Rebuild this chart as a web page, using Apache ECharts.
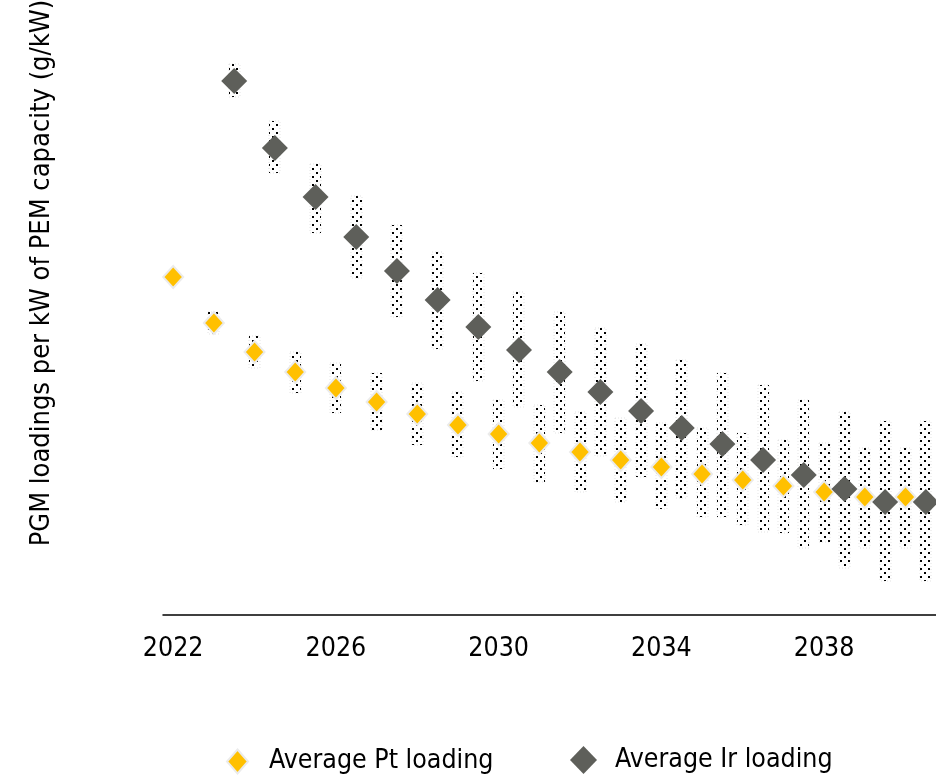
<!DOCTYPE html>
<html>
<head>
<meta charset="utf-8">
<script src="https://cdn.jsdelivr.net/npm/echarts@6/dist/echarts.min.js"></script>
<style>
  html, body { margin: 0; padding: 0; background: #fff; }
  #chart { width: 936px; height: 777px; }
</style>
</head>
<body>
<div id="chart"></div>
<script>
// Platinum loading: yearly averages and low/high range (g/kW)
const ptYears = [2022, 2023, 2024, 2025, 2026, 2027, 2028, 2029, 2030, 2031,
                 2032, 2033, 2034, 2035, 2036, 2037, 2038, 2039, 2040];
const ptAvg  = [0.338, 0.292, 0.263, 0.243, 0.227, 0.213, 0.201, 0.190, 0.181, 0.172,
                0.163, 0.155, 0.148, 0.141, 0.135, 0.129, 0.123, 0.118, 0.118];
const ptLow  = [0.335, 0.281, 0.247, 0.222, 0.202, 0.185, 0.170, 0.158, 0.146, 0.133,
                0.123, 0.113, 0.106, 0.098, 0.090, 0.082, 0.073, 0.067, 0.067];
const ptHigh = [0.341, 0.303, 0.279, 0.263, 0.252, 0.242, 0.232, 0.223, 0.215, 0.210,
                0.203, 0.197, 0.192, 0.187, 0.182, 0.175, 0.172, 0.167, 0.167];

// Iridium loading: plotted mid-year, averages and low/high range (g/kW)
const irYears = [2023.5, 2024.5, 2025.5, 2026.5, 2027.5, 2028.5, 2029.5, 2030.5, 2031.5,
                 2032.5, 2033.5, 2034.5, 2035.5, 2036.5, 2037.5, 2038.5, 2039.5, 2040.5];
const irAvg  = [0.534, 0.467, 0.418, 0.378, 0.344, 0.315, 0.288, 0.265, 0.243,
                0.223, 0.204, 0.187, 0.171, 0.155, 0.140, 0.126, 0.113, 0.113];
const irLow  = [0.518, 0.442, 0.382, 0.337, 0.298, 0.266, 0.234, 0.208, 0.182,
                0.159, 0.138, 0.117, 0.098, 0.083, 0.067, 0.047, 0.034, 0.034];
const irHigh = [0.551, 0.494, 0.451, 0.419, 0.390, 0.363, 0.342, 0.323, 0.303,
                0.287, 0.271, 0.255, 0.242, 0.230, 0.215, 0.203, 0.194, 0.194];

const yearTicks = [2022, 2026, 2030, 2034, 2038];

const FONT = '"DejaVu Sans Condensed", "Open Sans", sans-serif';
const FONT_SIZE = 26.5;

// Stippled fill used for the range bars
function dotPattern() {
  const c = document.createElement('canvas');
  c.width = 8; c.height = 8;
  const g = c.getContext('2d');
  g.fillStyle = '#000';
  g.fillRect(0, 0, 2, 2);
  g.fillRect(4, 4, 2, 2);
  return c;
}
const stipple = { image: dotPattern(), repeat: 'repeat' };

function rangeBar(params, api) {
  const x = api.value(0);
  const top = api.coord([x, api.value(2)]);
  const bot = api.coord([x, api.value(1)]);
  const w = 11;
  return {
    type: 'rect',
    shape: { x: Math.round(top[0] - w / 2), y: top[1], width: w, height: bot[1] - top[1] },
    style: { fill: stipple, stroke: 'rgba(120,120,120,0.35)', lineWidth: 0.6, lineDash: [1, 2] }
  };
}

const chart = echarts.init(document.getElementById('chart'), null, { renderer: 'canvas' });

chart.setOption({
  animation: false,
  backgroundColor: '#fff',
  grid: { left: 163, right: 0, top: 15, bottom: 162 },
  graphic: [
    {
      // vertical axis title
      type: 'text',
      x: 42, y: 273,
      rotation: Math.PI / 2,
      style: {
        text: 'PGM loadings per kW of PEM capacity (g/kW)',
        fill: '#000',
        font: '27px ' + FONT,
        align: 'center',
        verticalAlign: 'middle'
      }
    }
  ],
  xAxis: {
    type: 'value',
    min: 2021.75,
    max: 2040.75,
    axisLine: { show: true, onZero: false, lineStyle: { color: '#000', width: 1.5 } },
    axisTick: { show: false },
    splitLine: { show: false },
    axisLabel: {
      customValues: yearTicks,
      formatter: v => String(v),
      margin: 21,
      color: '#000',
      fontFamily: FONT,
      fontSize: FONT_SIZE
    }
  },
  yAxis: {
    type: 'value',
    min: 0,
    max: 0.6,
    axisLine: { show: false },
    axisTick: { show: false },
    axisLabel: { show: false },
    splitLine: { show: false }
  },
  legend: [
    {
      data: ['Average Pt loading'],
      left: 221, top: 743,
      icon: 'diamond', itemWidth: 21, itemHeight: 24,
      textStyle: { color: '#000', fontFamily: FONT, fontSize: FONT_SIZE, padding: [0, 0, 0, 16] }
    },
    {
      data: ['Average Ir loading'],
      left: 565, top: 741,
      icon: 'diamond', itemWidth: 27, itemHeight: 28,
      textStyle: { color: '#000', fontFamily: FONT, fontSize: FONT_SIZE, padding: [0, 0, 0, 13] }
    }
  ],
  series: [
    {
      type: 'custom',
      name: 'Pt range',
      renderItem: rangeBar,
      data: ptYears.map((y, i) => [y, ptLow[i], ptHigh[i]]),
      z: 1,
      silent: true
    },
    {
      type: 'custom',
      name: 'Ir range',
      renderItem: rangeBar,
      data: irYears.map((y, i) => [y, irLow[i], irHigh[i]]),
      z: 1,
      silent: true
    },
    {
      type: 'scatter',
      name: 'Average Pt loading',
      symbol: 'diamond',
      symbolSize: [20, 22],
      data: ptYears.map((y, i) => [y, ptAvg[i]]),
      itemStyle: { color: '#FFC000', borderColor: '#ebebeb', borderWidth: 2, opacity: 1 },
      z: 3
    },
    {
      type: 'scatter',
      name: 'Average Ir loading',
      symbol: 'diamond',
      symbolSize: 26,
      data: irYears.map((y, i) => [y, irAvg[i]]),
      itemStyle: { color: '#5E5F5A', opacity: 1 },
      z: 4
    }
  ]
});
</script>
</body>
</html>
